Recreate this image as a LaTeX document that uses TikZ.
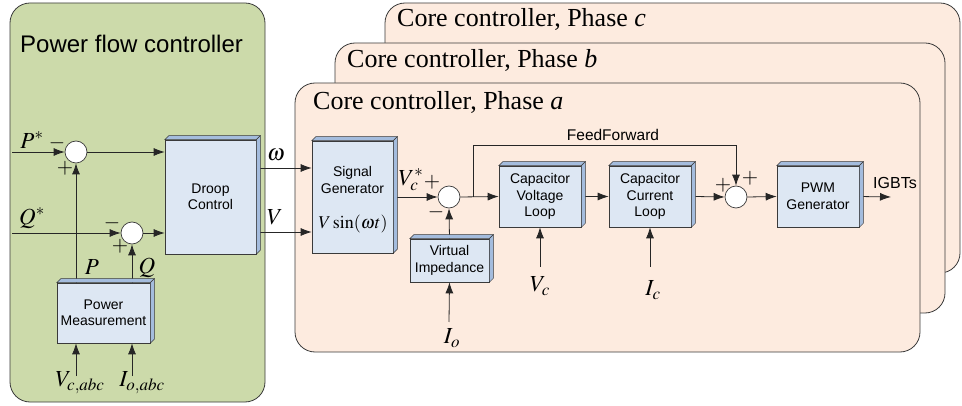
\documentclass[tikz,border=0pt]{standalone}
\usepackage{mathptmx}
\usepackage[no-math]{fontspec}
\setmainfont{Liberation Serif}
\newfontfamily\arialf{Liberation Sans}
\usetikzlibrary{arrows.meta,calc}
\definecolor{pfcfill}{HTML}{CCDAAA}
\definecolor{corefill}{HTML}{FDEBDF}
\definecolor{blkfill}{HTML}{DDE7F3}
\definecolor{sidefill}{HTML}{A4BCDD}
\definecolor{edge}{HTML}{3A3A3A}
\begin{document}
\begin{tikzpicture}[x=1pt,y=-1pt,
  panel/.style={draw=edge,line width=0.8pt,rounded corners=20pt},
  blk/.style={draw=edge,fill=blkfill,line width=0.6pt,inner sep=0pt,align=center,
    font=\arialf\fontsize{14}{16.5}\selectfont},
  face/.style={draw=edge,fill=sidefill,line width=0.5pt},
  btxt/.style={inner sep=0pt,align=center,font=\arialf\fontsize{14}{16.5}\selectfont},
  sumc/.style={circle,draw=edge,fill=white,minimum size=22pt,inner sep=0pt,line width=0.7pt},
  arr/.style={-{Latex[length=11pt,width=8pt]},line width=0.8pt,draw=black!85},
  mlab/.style={inner sep=0pt,font=\fontsize{23}{23}\selectfont},
  sgn/.style={inner sep=0pt,font=\fontsize{21}{21}\selectfont},
  ttl/.style={inner sep=0pt,anchor=west,font=\fontsize{26}{26}\selectfont},
]
\useasboundingbox (0,0) rectangle (962,406);

% panels
\draw[panel,fill=pfcfill] (10,3) rectangle (265,402);
\node[ttl,font=\arialf\fontsize{24}{24}\selectfont] (pfct) at (20,44) {Power flow controller};

\draw[panel,fill=corefill] (385,3) rectangle (960,273);
\node[ttl] (tc) at (397,19) {Core controller, Phase \textit{c}};
\draw[panel,fill=corefill] (335,43) rectangle (945,313);
\node[ttl] (tb) at (347,60) {Core controller, Phase \textit{b}};
\draw[panel,fill=corefill] (295,83) rectangle (920,352);
\node[ttl] (ta) at (313,102) {Core controller, Phase \textit{a}};

% blocks
\node[blk,minimum width=91pt,minimum height=114pt] (droop) at (210.5,197) {Droop\\Control};
\node[blk,minimum width=93pt,minimum height=60pt] (pm) at (103.5,313) {Power\\Measurement};
\node[blk,minimum width=81pt,minimum height=112pt] (sig) at (352.5,197) {};
\node[btxt] (sigt) at (352.5,180) {Signal\\Generator};
\node[inner sep=0pt,font=\fontsize{18}{18}\selectfont] (sigf) at (353,224) {$V\sin(\omega t)$};
\node[blk,minimum width=79pt,minimum height=43pt] (vi) at (449.5,260.5) {Virtual\\Impedance};
\node[blk,minimum width=82pt,minimum height=61pt] (cvl) at (540,196.5) {Capacitor\\Voltage\\Loop};
\node[blk,minimum width=82pt,minimum height=61pt] (ccl) at (650,196.5) {Capacitor\\Current\\Loop};
\node[blk,minimum width=82pt,minimum height=61pt] (pwm) at (818,196.5) {PWM\\Generator};

% summing junctions
\node[sumc] (sp) at (76,152) {};
\node[sumc] (sq) at (132,233) {};
\node[sumc] (sv) at (449,197) {};
\node[sumc] (sf) at (736,197) {};

% free ends
\coordinate (pin) at (12,152);
\coordinate (qin) at (12,233);
\coordinate (vcabc) at (76,376);
\coordinate (ioabc) at (132,376);
\coordinate (wout) at (256,168);
\coordinate (vout) at (256,232);
\coordinate (ffb) at (473,197);
\coordinate (ffu) at (473,145);
\coordinate (igbt) at (891,197);
\coordinate (ioin) at (449,322);
\coordinate (vcin) at (540,267);
\coordinate (icin) at (650,267);

% connectors
\draw[arr] (pin) -- (sp.west);
\draw[arr] (qin) -- (sq.west);
\draw[arr] (sp.east) -- (droop.west |- sp);
\draw[arr] (sq.east) -- (droop.west |- sq);
\draw[arr] (pm.north -| sp) -- (sp.south);
\draw[arr] (pm.north -| sq) -- (sq.south);
\draw[arr] (vcabc) -- (pm.south -| vcabc);
\draw[arr] (ioabc) -- (pm.south -| ioabc);
\draw[arr] (wout) -- (sig.west |- wout);
\draw[arr] (vout) -- (sig.west |- vout);
\draw[arr] (sig.east |- sv) -- (sv.west);
\draw[arr] (sv.east) -- (cvl.west);
\draw[arr] (ffb) -- (ffu) -- (ffu -| sf) -- (sf.north);
\draw[arr] (cvl.east) ++(4,0) -- (ccl.west);
\draw[arr] (ccl.east) ++(4,0) -- (sf.west);
\draw[arr] (sf.east) -- (pwm.west);
\draw[arr] (pwm.east) -- (igbt);
\draw[arr] (vi.north) -- (sv.south);
\draw[arr] (ioin) -- (vi.south);
\draw[arr] (vcin) -- (cvl.south);
\draw[arr] (icin) -- (ccl.south);

% 3D faces
\foreach \n in {droop,pm,sig,vi,cvl,ccl,pwm}{
  \filldraw[face] (\n.north west) -- ++(4,-4) -- ($(\n.north east)+(4,-4)$) -- (\n.north east) -- cycle;
  \filldraw[face] (\n.north east) -- ++(4,-4) -- ($(\n.south east)+(4,-4)$) -- (\n.south east) -- cycle;
}

% labels
\node[mlab] (lps) at (32,140) {$P^{*}$};
\node[mlab] (lqs) at (32,218) {$Q^{*}$};
\node[sgn] (m1) at (57,143) {$-$};
\node[sgn] (p1) at (65,168) {$+$};
\node[sgn] (m2) at (112,223) {$-$};
\node[sgn] (p2) at (120,246) {$+$};
\node[mlab] (lp) at (92,267) {$P$};
\node[mlab] (lq) at (147,268) {$Q$};
\node[mlab] (lvabc) at (80,383) {$V_{c,abc}$};
\node[mlab] (lioabc) at (142,383) {$I_{o,abc}$};
\node[mlab] (lw) at (276,155) {$\omega$};
\node[mlab] (lv) at (275,217) {$V$};
\node[mlab] (lvcs) at (411,180) {$V_c^{*}$};
\node[sgn] (p3) at (432,182) {$+$};
\node[sgn] (m3) at (436,212) {$-$};
\node[mlab] (lvc) at (540,286) {$V_c$};
\node[mlab] (lio) at (452,338) {$I_o$};
\node[mlab] (lic) at (653,290) {$I_c$};
\node[sgn] (p4) at (723,185) {$+$};
\node[sgn] (p5) at (750,178) {$+$};
\node[inner sep=0pt,font=\arialf\fontsize{15.5}{15.5}\selectfont] (ffl) at (613,135) {FeedForward};
\node[inner sep=0pt,font=\arialf\fontsize{16}{16}\selectfont] (igl) at (895,183) {IGBTs};
\end{tikzpicture}
\end{document}
